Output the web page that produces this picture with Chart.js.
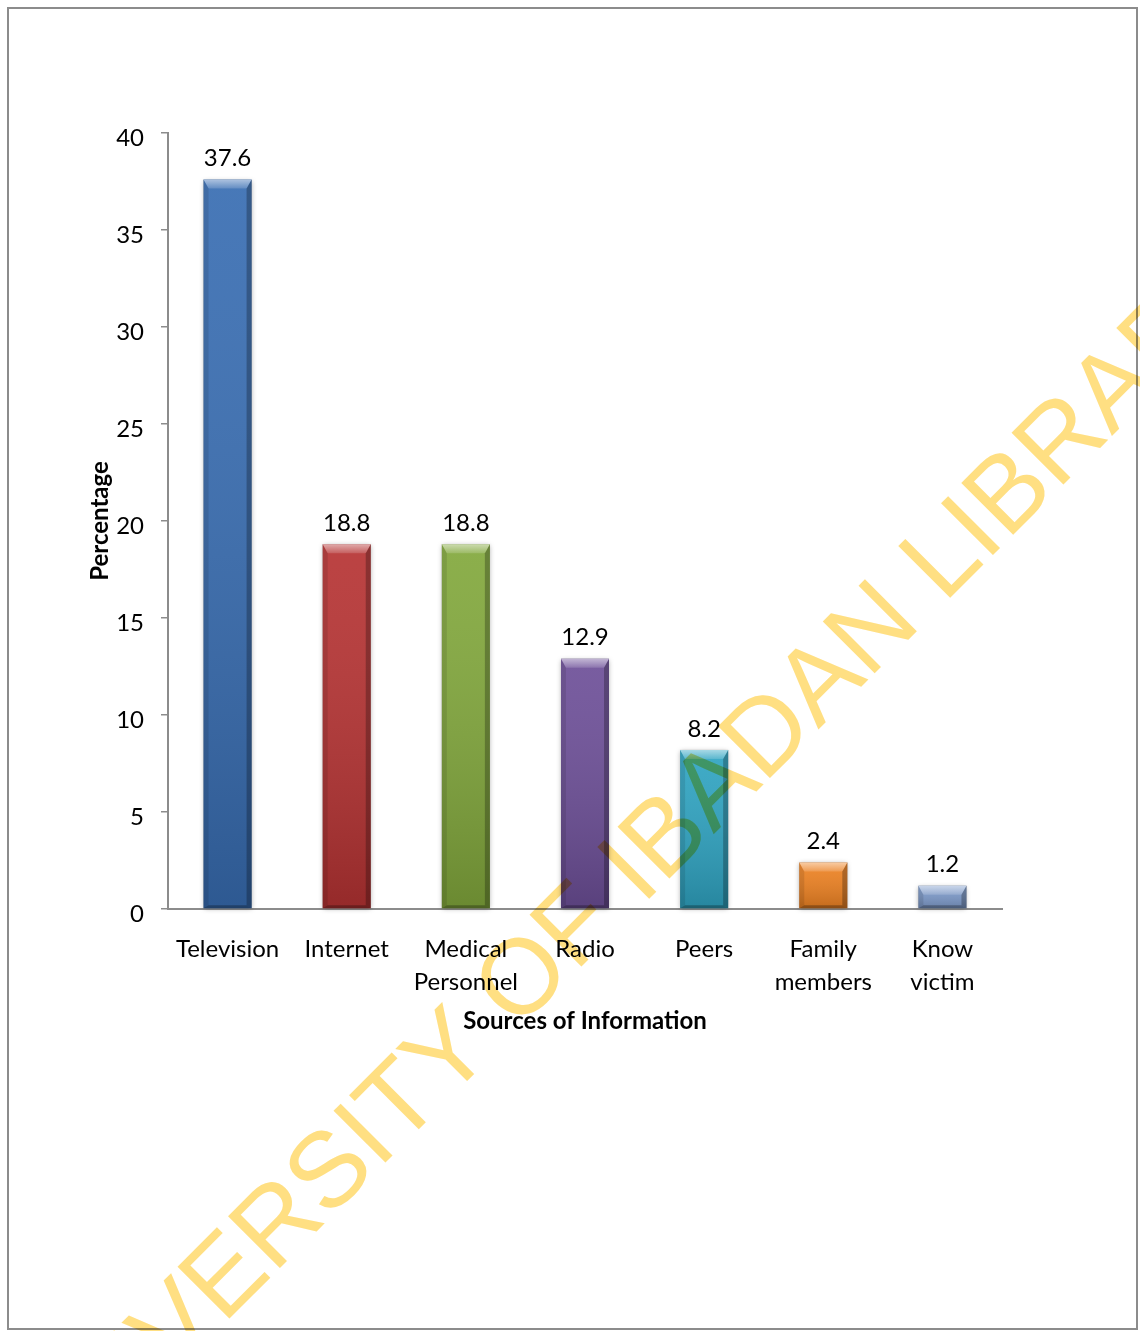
<!DOCTYPE html>
<html>
<head>
<meta charset="utf-8">
<title>Sources of Information</title>
<script src="https://cdn.jsdelivr.net/npm/chart.js@4/dist/chart.umd.min.js"></script>
<style>
  html, body { margin: 0; padding: 0; background: #fff; }
  #wrap { width: 1140px; height: 1331px; position: relative; }
  canvas { display: block; }
</style>
</head>
<body>
<div id="wrap"><canvas id="c" width="1140" height="1331"></canvas></div>
<script>
// Sources of information and the share of respondents (%) citing each
const categories = ['Television', 'Internet', ['Medical', 'Personnel'], 'Radio', 'Peers', ['Family', 'members'], ['Know', 'victim']];
const percentages = [37.6, 18.8, 18.8, 12.9, 8.2, 2.4, 1.2];
const barColors = ['#386db2', '#b63333', '#82a83c', '#6d4f98', '#2fa4c2', '#ee8222', '#7e9bcb'];
const yTicks = [0, 5, 10, 15, 20, 25, 30, 35, 40];

const FONT = 'Lato, "Open Sans", "Liberation Sans", sans-serif';
const FS = 24;

// White page with a thin grey frame
const pagePlugin = {
  id: 'page',
  beforeDraw(chart) {
    const ctx = chart.ctx;
    ctx.save();
    ctx.fillStyle = '#ffffff';
    ctx.fillRect(0, 0, chart.width, chart.height);
    ctx.strokeStyle = '#8c8c8c';
    ctx.lineWidth = 2;
    ctx.strokeRect(8, 8, 1129, 1321);
    ctx.restore();
  }
};

// Soft shadow under each bar
const shadowPlugin = {
  id: 'barShadow',
  beforeDatasetsDraw(chart) {
    const ctx = chart.ctx;
    const meta = chart.getDatasetMeta(0);
    ctx.save();
    meta.data.forEach(el => {
      const p = el.getProps(['x', 'y', 'width', 'base'], true);
      ctx.shadowColor = 'rgba(0,0,0,0.35)';
      ctx.shadowBlur = 5;
      ctx.shadowOffsetX = 0;
      ctx.shadowOffsetY = 1;
      ctx.fillStyle = '#999';
      ctx.fillRect(p.x - p.width / 2, p.y, p.width, p.base - p.y);
    });
    ctx.restore();
  }
};

// Bevelled look on top of each flat bar, then the value above it
const bevelPlugin = {
  id: 'bevel',
  afterDatasetsDraw(chart) {
    const ctx = chart.ctx;
    const meta = chart.getDatasetMeta(0);
    const values = chart.data.datasets[0].data;
    ctx.save();
    meta.data.forEach((el, i) => {
      const p = el.getProps(['x', 'y', 'width', 'base'], true);
      const L = p.x - p.width / 2, R = p.x + p.width / 2, T = p.y, B = p.base;
      const h = B - T;
      const bt = Math.min(9, h / 2.5), bs = 5, bb = Math.min(3, h / 6);

      // shading from top to bottom
      const vg = ctx.createLinearGradient(0, T, 0, B);
      vg.addColorStop(0, 'rgba(255,255,255,0.08)');
      vg.addColorStop(1, 'rgba(0,0,0,0.18)');
      ctx.fillStyle = vg;
      ctx.fillRect(L, T, p.width, h);

      // left face
      ctx.fillStyle = 'rgba(0,0,0,0.10)';
      ctx.beginPath();
      ctx.moveTo(L, T); ctx.lineTo(L + bs, T + bt); ctx.lineTo(L + bs, B - bb); ctx.lineTo(L, B);
      ctx.closePath(); ctx.fill();

      // right face
      ctx.fillStyle = 'rgba(0,0,0,0.26)';
      ctx.beginPath();
      ctx.moveTo(R, T); ctx.lineTo(R - bs, T + bt); ctx.lineTo(R - bs, B - bb); ctx.lineTo(R, B);
      ctx.closePath(); ctx.fill();

      // top face
      const tg = ctx.createLinearGradient(0, T, 0, T + bt);
      tg.addColorStop(0, 'rgba(255,255,255,0.55)');
      tg.addColorStop(1, 'rgba(255,255,255,0.15)');
      ctx.fillStyle = tg;
      ctx.beginPath();
      ctx.moveTo(L, T); ctx.lineTo(R, T); ctx.lineTo(R - bs, T + bt); ctx.lineTo(L + bs, T + bt);
      ctx.closePath(); ctx.fill();

      // bottom face
      ctx.fillStyle = 'rgba(0,0,0,0.28)';
      ctx.beginPath();
      ctx.moveTo(L, B); ctx.lineTo(R, B); ctx.lineTo(R - bs, B - bb); ctx.lineTo(L + bs, B - bb);
      ctx.closePath(); ctx.fill();

      // value label
      ctx.fillStyle = '#000';
      ctx.font = FS + 'px ' + FONT;
      ctx.textAlign = 'center';
      ctx.textBaseline = 'middle';
      ctx.fillText(String(values[i]), p.x, T - 21);
    });
    ctx.restore();
  }
};

// Diagonal library stamp across the page
const stampPlugin = {
  id: 'stamp',
  afterDraw(chart) {
    const ctx = chart.ctx;
    const text = 'UNIVERSITY OF IBADAN LIBRARY';
    const family = '"Liberation Sans", Arial, sans-serif';
    ctx.save();
    ctx.font = '100px ' + family;
    const a = ctx.measureText('UNIVERS').width;
    const b = ctx.measureText('UNIVERSITY OF IBADAN ').width;
    const size = 100 * 800 / (b - a);
    ctx.font = size + 'px ' + family;
    const off = ctx.measureText('UNIVERSITY OF IBADAN ').width;
    const ang = -Math.PI / 4;
    ctx.translate(944 - off * Math.cos(ang), 604 - off * Math.sin(ang));
    ctx.rotate(ang);
    ctx.globalCompositeOperation = 'multiply';
    ctx.fillStyle = '#ffdf82';
    ctx.textBaseline = 'alphabetic';
    ctx.textAlign = 'left';
    ctx.fillText(text, 0, 0);
    ctx.restore();
  }
};

new Chart(document.getElementById('c'), {
  type: 'bar',
  data: {
    labels: categories,
    datasets: [{
      data: percentages,
      backgroundColor: barColors,
      borderWidth: 0,
      barPercentage: 0.403,
      categoryPercentage: 1.0
    }]
  },
  options: {
    responsive: false,
    animation: false,
    devicePixelRatio: 1,
    layout: { padding: { left: 0, top: 133, right: 138, bottom: 295 } },
    plugins: {
      legend: { display: false },
      tooltip: { enabled: false }
    },
    scales: {
      x: {
        afterFit(scale) { scale.height = 127; },
        grid: { display: false, drawTicks: false },
        border: { display: true, color: '#8c8c8c', width: 2 },
        ticks: {
          color: '#000',
          font: { family: FONT, size: FS, lineHeight: 1.375 },
          padding: 24,
          maxRotation: 0,
          autoSkip: false
        },
        title: {
          display: true,
          text: 'Sources of Information',
          color: '#000',
          font: { family: FONT, size: FS, weight: 'bold', lineHeight: 1.2 },
          padding: { top: 0, bottom: 0 }
        }
      },
      y: {
        min: yTicks[0],
        max: yTicks[yTicks.length - 1],
        afterFit(scale) { scale.width = 168; },
        afterBuildTicks(scale) { scale.ticks = yTicks.map(v => ({ value: v })); },
        grid: { display: true, drawOnChartArea: false, drawTicks: true, tickLength: 7, color: '#8c8c8c', lineWidth: 1.5 },
        border: { display: true, color: '#8c8c8c', width: 2 },
        ticks: {
          color: '#000',
          font: { family: FONT, size: FS },
          padding: 17,
          labelOffset: 5
        },
        title: {
          display: true,
          text: 'Percentage',
          color: '#000',
          font: { family: FONT, size: FS, weight: 'bold', lineHeight: 1.2 },
          padding: { top: 86, bottom: 0 }
        }
      }
    }
  },
  plugins: [pagePlugin, shadowPlugin, bevelPlugin, stampPlugin]
});
</script>
</body>
</html>
